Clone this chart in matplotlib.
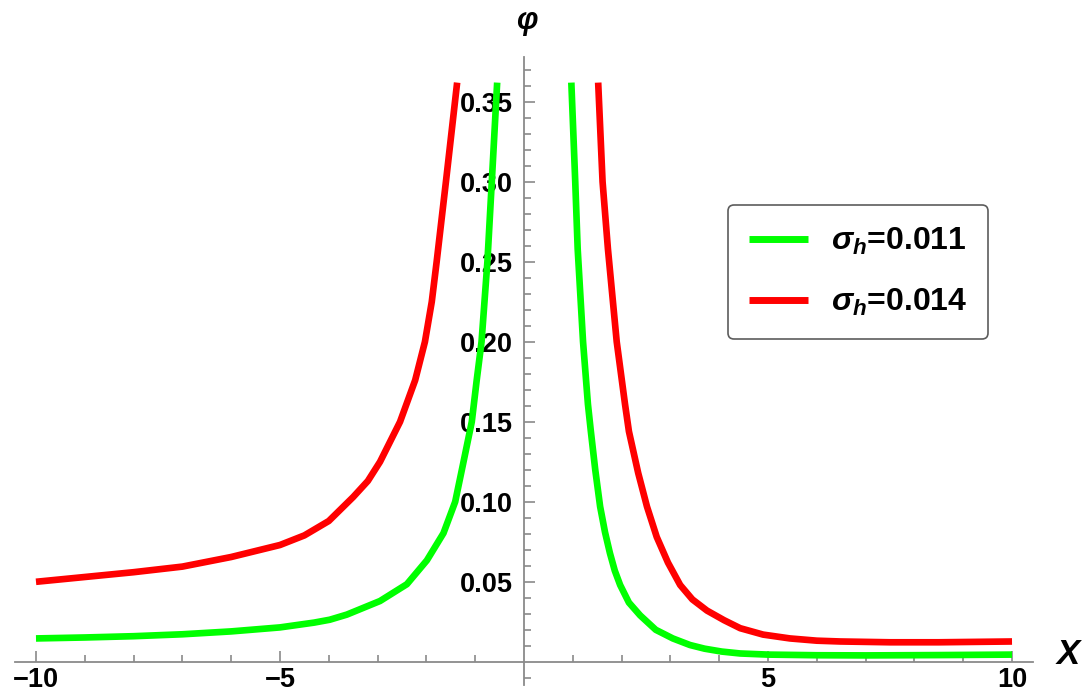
import matplotlib
matplotlib.use("Agg")
import matplotlib.pyplot as plt

plt.rcParams['font.family'] = ['Liberation Sans', 'DejaVu Sans']
plt.rcParams['font.weight'] = 'bold'
plt.rcParams['mathtext.fontset'] = 'custom'
plt.rcParams['mathtext.it'] = 'Liberation Sans:italic:bold'
plt.rcParams['mathtext.rm'] = 'Liberation Sans:bold'
plt.rcParams['mathtext.bf'] = 'Liberation Sans:bold'

# ---- data: phi(X) for the two sigma_h values, left and right branches ----
labels = [r'$\sigma_h$=0.011', r'$\sigma_h$=0.014']
colors = ['#00ff00', '#ff0000']

green_left_x = [-10, -9, -8, -7, -6, -5, -4.3, -3.98, -3.63, -2.95, -2.4,
                -1.99, -1.65, -1.41, -1.24, -1.07, -0.97, -0.87, -0.81, -0.75,
                -0.66, -0.55]
green_left_y = [0.0146, 0.0152, 0.016, 0.0172, 0.019, 0.0215, 0.0245, 0.0263,
                0.0295, 0.038, 0.0485, 0.0634, 0.0804, 0.10, 0.1249, 0.15,
                0.1758, 0.20, 0.225, 0.25, 0.30, 0.362]
green_right_x = [0.97, 1.05, 1.10, 1.21, 1.31, 1.37, 1.46, 1.56, 1.66, 1.76,
                 1.86, 1.97, 2.15, 2.38, 2.7, 3.05, 3.4, 3.7, 4.05, 4.43, 5, 6,
                 7, 8.5, 10]
green_right_y = [0.362, 0.30, 0.258, 0.20, 0.161, 0.144, 0.12, 0.097, 0.081,
                 0.068, 0.057, 0.048, 0.037, 0.029, 0.020, 0.0146, 0.0105,
                 0.0082, 0.0064, 0.0052, 0.0045, 0.0041, 0.004, 0.0042, 0.0045]

red_left_x = [-10, -9, -8, -7, -6, -5, -4.5, -4, -3.5, -3.2, -2.95, -2.54,
              -2.23, -2.03, -1.89, -1.79, -1.6, -1.47, -1.37]
red_left_y = [0.050, 0.053, 0.056, 0.0595, 0.0655, 0.073, 0.079, 0.088, 0.103,
              0.113, 0.125, 0.150, 0.176, 0.20, 0.225, 0.25, 0.30, 0.335, 0.362]
red_right_x = [1.52, 1.61, 1.72, 1.9, 2.07, 2.15, 2.34, 2.52, 2.72, 2.95, 3.2,
               3.45, 3.75, 4.1, 4.43, 4.9, 5.45, 6.0, 6.48, 7.5, 8.5, 10]
red_right_y = [0.362, 0.30, 0.258, 0.20, 0.161, 0.144, 0.118, 0.097, 0.078,
               0.062, 0.048, 0.039, 0.032, 0.026, 0.021, 0.017, 0.0146, 0.0132,
               0.0127, 0.0122, 0.0122, 0.0127]

branches = [
    (green_left_x, green_left_y, green_right_x, green_right_y),
    (red_left_x, red_left_y, red_right_x, red_right_y),
]

fig = plt.figure(figsize=(10.84, 6.95), dpi=100)
ax = fig.add_axes([15 / 1084, 10 / 695, 1018 / 1084, 628 / 695])

for (lx, ly, rx, ry), lab, c in zip(branches, labels, colors):
    ax.plot(lx, ly, color=c, lw=4.8, label=lab, solid_capstyle='butt',
            solid_joinstyle='round')
    ax.plot(rx, ry, color=c, lw=4.8, solid_capstyle='butt',
            solid_joinstyle='round')

ax.set_xlim(-10.43, 10.43)
ax.set_ylim(-0.0145, 0.378)

# axes crossing at the origin
for side in ['top', 'right']:
    ax.spines[side].set_visible(False)
ax.spines['left'].set_position(('data', 0))
ax.spines['bottom'].set_position(('data', 0))
for side in ['left', 'bottom']:
    ax.spines[side].set_color('#8a8a8a')
    ax.spines[side].set_linewidth(1.3)

ax.set_xticks([-10, -5, 5, 10])
ax.set_xticklabels(['\u221210', '\u22125', '5', '10'])
ax.set_xticks([v for v in range(-10, 11) if v % 5 != 0], minor=True)
yt = [0.05, 0.10, 0.15, 0.20, 0.25, 0.30, 0.35]
ax.set_yticks(yt)
ax.set_yticklabels([f'{v:.2f}' for v in yt])
ax.set_yticks([i / 100 for i in range(-1, 38) if i % 5 != 0], minor=True)

ax.tick_params(which='both', direction='in', color='#8a8a8a', width=1.2)
ax.tick_params(which='major', length=8, labelsize=19.5)
ax.tick_params(which='minor', length=5)
ax.tick_params(axis='y', pad=8)
ax.tick_params(axis='x', pad=4)

fig.text(527 / 1084, 1 - 21 / 695, '\u03c6', fontsize=22, style='italic',
         weight='bold', ha='center', va='center')
fig.text(1068 / 1084, 1 - 655 / 695, 'X', fontsize=25, style='italic',
         weight='bold', ha='center', va='center')

leg = ax.legend(loc='upper left', bbox_to_anchor=(728 / 1084, 1 - 205 / 695),
                bbox_transform=fig.transFigure, borderaxespad=0, fontsize=23,
                frameon=True, fancybox=True, edgecolor='#333333',
                handlelength=1.85, handletextpad=0.72, labelspacing=0.95,
                borderpad=0.65)
leg.get_frame().set_linewidth(1.2)
for line in leg.get_lines():
    line.set_linewidth(5)

fig.savefig('out.png', dpi=100)
